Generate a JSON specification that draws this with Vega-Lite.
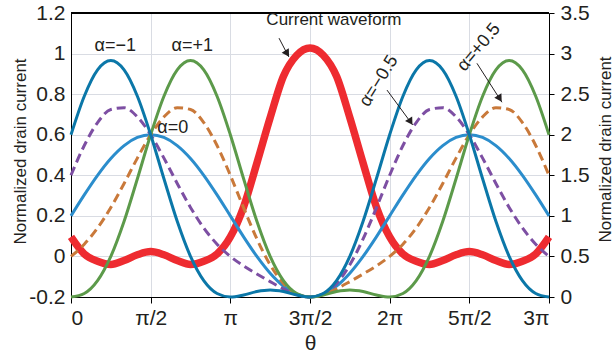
{
  "$schema": "https://vega.github.io/schema/vega-lite/v6.json",
  "width": 478,
  "height": 284,
  "autosize": {"type": "none"},
  "padding": {"left": 71, "top": 13, "right": 66, "bottom": 61},
  "config": {
    "view": {"stroke": "#000000", "strokeWidth": 1},
    "font": "Liberation Sans",
    "axis": {"labelFont": "Liberation Sans", "titleFont": "Liberation Sans", "labelColor": "#231f20", "titleColor": "#231f20", "domainColor": "#000000", "tickColor": "#000000", "titleFontWeight": "normal"}
  },
  "datasets": {
    "curves": [
      {"t": 0, "m1": 2, "m05": 1.5, "z": 1, "p05": 0.5, "p1": 0, "cur": 0.74},
      {"t": 15, "m1": 2.4747, "m05": 1.8667, "z": 1.2588, "p05": 0.6509, "p1": 0.0429, "cur": 0.53},
      {"t": 30, "m1": 2.799, "m05": 2.1495, "z": 1.5, "p05": 0.8505, "p1": 0.201, "cur": 0.44},
      {"t": 45, "m1": 2.9142, "m05": 2.3107, "z": 1.7071, "p05": 1.1036, "p1": 0.5, "cur": 0.40},
      {"t": 60, "m1": 2.799, "m05": 2.3325, "z": 1.866, "p05": 1.3995, "p1": 0.933, "cur": 0.45},
      {"t": 75, "m1": 2.4747, "m05": 2.2203, "z": 1.9659, "p05": 1.7115, "p1": 1.4571, "cur": 0.52},
      {"t": 90, "m1": 2, "m05": 2, "z": 2, "p05": 2, "p1": 2, "cur": 0.56},
      {"t": 105, "m1": 1.4571, "m05": 1.7115, "z": 1.9659, "p05": 2.2203, "p1": 2.4747, "cur": 0.52},
      {"t": 120, "m1": 0.933, "m05": 1.3995, "z": 1.866, "p05": 2.3325, "p1": 2.799, "cur": 0.45},
      {"t": 135, "m1": 0.5, "m05": 1.1036, "z": 1.7071, "p05": 2.3107, "p1": 2.9142, "cur": 0.40},
      {"t": 150, "m1": 0.201, "m05": 0.8505, "z": 1.5, "p05": 2.1495, "p1": 2.799, "cur": 0.44},
      {"t": 165, "m1": 0.0429, "m05": 0.6509, "z": 1.2588, "p05": 1.8667, "p1": 2.4747, "cur": 0.53},
      {"t": 180, "m1": 0, "m05": 0.5, "z": 1, "p05": 1.5, "p1": 2, "cur": 0.74},
      {"t": 195, "m1": 0.0253, "m05": 0.3832, "z": 0.7412, "p05": 1.0992, "p1": 1.4571, "cur": 1.11},
      {"t": 210, "m1": 0.067, "m05": 0.2835, "z": 0.5, "p05": 0.7165, "p1": 0.933, "cur": 1.65},
      {"t": 225, "m1": 0.0858, "m05": 0.1893, "z": 0.2929, "p05": 0.3964, "p1": 0.5, "cur": 2.21},
      {"t": 240, "m1": 0.067, "m05": 0.1005, "z": 0.134, "p05": 0.1675, "p1": 0.201, "cur": 2.72},
      {"t": 255, "m1": 0.0253, "m05": 0.0297, "z": 0.0341, "p05": 0.0385, "p1": 0.0429, "cur": 2.98},
      {"t": 270, "m1": 0, "m05": 0, "z": 0, "p05": 0, "p1": 0, "cur": 3.07},
      {"t": 285, "m1": 0.0429, "m05": 0.0385, "z": 0.0341, "p05": 0.0297, "p1": 0.0253, "cur": 2.98},
      {"t": 300, "m1": 0.201, "m05": 0.1675, "z": 0.134, "p05": 0.1005, "p1": 0.067, "cur": 2.72},
      {"t": 315, "m1": 0.5, "m05": 0.3964, "z": 0.2929, "p05": 0.1893, "p1": 0.0858, "cur": 2.21},
      {"t": 330, "m1": 0.933, "m05": 0.7165, "z": 0.5, "p05": 0.2835, "p1": 0.067, "cur": 1.65},
      {"t": 345, "m1": 1.4571, "m05": 1.0992, "z": 0.7412, "p05": 0.3832, "p1": 0.0253, "cur": 1.11},
      {"t": 360, "m1": 2, "m05": 1.5, "z": 1, "p05": 0.5, "p1": 0, "cur": 0.74},
      {"t": 375, "m1": 2.4747, "m05": 1.8667, "z": 1.2588, "p05": 0.6509, "p1": 0.0429, "cur": 0.53},
      {"t": 390, "m1": 2.799, "m05": 2.1495, "z": 1.5, "p05": 0.8505, "p1": 0.201, "cur": 0.44},
      {"t": 405, "m1": 2.9142, "m05": 2.3107, "z": 1.7071, "p05": 1.1036, "p1": 0.5, "cur": 0.40},
      {"t": 420, "m1": 2.799, "m05": 2.3325, "z": 1.866, "p05": 1.3995, "p1": 0.933, "cur": 0.45},
      {"t": 435, "m1": 2.4747, "m05": 2.2203, "z": 1.9659, "p05": 1.7115, "p1": 1.4571, "cur": 0.52},
      {"t": 450, "m1": 2, "m05": 2, "z": 2, "p05": 2, "p1": 2, "cur": 0.56},
      {"t": 465, "m1": 1.4571, "m05": 1.7115, "z": 1.9659, "p05": 2.2203, "p1": 2.4747, "cur": 0.52},
      {"t": 480, "m1": 0.933, "m05": 1.3995, "z": 1.866, "p05": 2.3325, "p1": 2.799, "cur": 0.45},
      {"t": 495, "m1": 0.5, "m05": 1.1036, "z": 1.7071, "p05": 2.3107, "p1": 2.9142, "cur": 0.40},
      {"t": 510, "m1": 0.201, "m05": 0.8505, "z": 1.5, "p05": 2.1495, "p1": 2.799, "cur": 0.44},
      {"t": 525, "m1": 0.0429, "m05": 0.6509, "z": 1.2588, "p05": 1.8667, "p1": 2.4747, "cur": 0.53},
      {"t": 540, "m1": 0, "m05": 0.5, "z": 1, "p05": 1.5, "p1": 2, "cur": 0.74}
    ],
    "labels": [
      {"t": 50, "v": 3.09, "label": "α=−1"},
      {"t": 137, "v": 3.09, "label": "α=+1"},
      {"t": 115, "v": 2.08, "label": "α=0"},
      {"t": 297, "v": 3.41, "label": "Current waveform"},
      {"t": 348, "v": 2.66, "label": "α=−0.5"},
      {"t": 461, "v": 3.075, "label": "α=+0.5"}
    ],
    "arrows": [
      {"t": 235, "v": 3.19, "t2": 246, "v2": 2.96},
      {"t": 357, "v": 2.55, "t2": 386, "v2": 2.12},
      {"t": 458.6, "v": 2.88, "t2": 486.8, "v2": 2.40}
    ],
    "heads": [
      {"t": 244.2, "v": 3.0},
      {"t": 383.6, "v": 2.16},
      {"t": 484.4, "v": 2.445}
    ]
  },
  "encoding": {
    "x": {
      "field": "t", "type": "quantitative",
      "scale": {"domain": [0, 540], "nice": false, "zero": false},
      "axis": {
        "values": [0, 90, 180, 270, 360, 450, 540],
        "labelExpr": "['0','π/2','π','3π/2','2π','5π/2','3π'][round(datum.value/90)]",
        "tickSize": 6, "labelPadding": 4, "labelFontSize": 21,
        "grid": true, "gridColor": "#d9dce3", "gridWidth": 1,
        "title": "θ", "titleFontSize": 21, "titleX": 239, "titleY": 46,
        "titleAlign": "center", "titleBaseline": "middle"
      }
    }
  },
  "layer": [
    {
      "data": {"name": "curves"},
      "mark": {"type": "point", "opacity": 0},
      "encoding": {
        "y": {
          "field": "z", "type": "quantitative",
          "scale": {"domain": [-0.2, 1.2], "nice": false, "zero": false},
          "axis": {
            "orient": "left",
            "values": [-0.2, 0, 0.2, 0.4, 0.6, 0.8, 1, 1.2],
            "labelExpr": "datum.value < -0.1 ? '-0.2' : format(datum.value, '~g')",
            "ticks": false, "tickSize": 0, "labelPadding": 6, "labelFontSize": 21,
            "grid": true, "gridColor": "#d9dce3", "gridWidth": 1,
            "title": "Normalized drain current", "titleFontSize": 17,
            "titleX": -51, "titleY": 138, "titleAngle": 270,
            "titleAlign": "center", "titleBaseline": "middle"
          }
        }
      }
    },
    {
      "encoding": {
        "y": {
          "field": "cur", "type": "quantitative",
          "scale": {"domain": [0, 3.5], "nice": false, "zero": false},
          "axis": {
            "orient": "right",
            "values": [0, 0.5, 1, 1.5, 2, 2.5, 3, 3.5],
            "format": "~g",
            "tickSize": 5, "labelPadding": 6, "labelFontSize": 21,
            "grid": false,
            "title": "Normalized drain current", "titleFontSize": 17,
            "titleX": 56, "titleY": 136, "titleAngle": 270,
            "titleAlign": "center", "titleBaseline": "middle"
          }
        }
      },
      "layer": [
        {
          "data": {"name": "curves"},
          "mark": {"type": "line", "color": "#ee2b30", "strokeWidth": 7.5, "interpolate": "monotone"}
        },
        {
          "data": {"name": "curves"},
          "mark": {"type": "line", "color": "#2b8dcc", "strokeWidth": 3, "interpolate": "monotone"},
          "encoding": {"y": {"field": "z", "type": "quantitative"}}
        },
        {
          "data": {"name": "curves"},
          "mark": {"type": "line", "color": "#c9793a", "strokeWidth": 3, "strokeDash": [9, 5], "interpolate": "monotone"},
          "encoding": {"y": {"field": "p05", "type": "quantitative"}}
        },
        {
          "data": {"name": "curves"},
          "mark": {"type": "line", "color": "#7d4fa3", "strokeWidth": 3, "strokeDash": [9, 5], "interpolate": "monotone"},
          "encoding": {"y": {"field": "m05", "type": "quantitative"}}
        },
        {
          "data": {"name": "curves"},
          "mark": {"type": "line", "color": "#5c9a4a", "strokeWidth": 3, "interpolate": "monotone"},
          "encoding": {"y": {"field": "p1", "type": "quantitative"}}
        },
        {
          "data": {"name": "curves"},
          "mark": {"type": "line", "color": "#0b77a8", "strokeWidth": 3, "interpolate": "monotone"},
          "encoding": {"y": {"field": "m1", "type": "quantitative"}}
        },
        {
          "data": {"name": "curves"},
          "mark": {"type": "rule", "color": "#000000", "strokeWidth": 1},
          "encoding": {"x": {"datum": 0}, "x2": {"datum": 540}, "y": {"datum": 3.5}}
        },
        {
          "data": {"name": "arrows"},
          "mark": {"type": "rule", "color": "#231f20", "strokeWidth": 1},
          "encoding": {
            "y": {"field": "v", "type": "quantitative"},
            "x2": {"field": "t2"},
            "y2": {"field": "v2"}
          }
        },
        {
          "data": {"name": "heads"},
          "mark": {"type": "point", "shape": "triangle-up", "filled": true, "color": "#231f20", "opacity": 1, "size": 70, "angle": 148},
          "encoding": {"y": {"field": "v", "type": "quantitative"}}
        },
        {
          "data": {"name": "labels"},
          "transform": [{"filter": {"field": "label", "oneOf": ["α=−1", "α=+1", "α=0"]}}],
          "mark": {"type": "text", "fontSize": 18, "color": "#231f20", "align": "center", "baseline": "middle"},
          "encoding": {
            "y": {"field": "v", "type": "quantitative"},
            "text": {"field": "label"}
          }
        },
        {
          "data": {"name": "labels"},
          "transform": [{"filter": {"field": "label", "equal": "Current waveform"}}],
          "mark": {"type": "text", "fontSize": 17, "color": "#231f20", "align": "center", "baseline": "middle"},
          "encoding": {
            "y": {"field": "v", "type": "quantitative"},
            "text": {"field": "label"}
          }
        },
        {
          "data": {"name": "labels"},
          "transform": [{"filter": {"field": "label", "equal": "α=−0.5"}}],
          "mark": {"type": "text", "fontSize": 18, "color": "#231f20", "align": "center", "baseline": "middle", "angle": -58},
          "encoding": {
            "y": {"field": "v", "type": "quantitative"},
            "text": {"field": "label"}
          }
        },
        {
          "data": {"name": "labels"},
          "transform": [{"filter": {"field": "label", "equal": "α=+0.5"}}],
          "mark": {"type": "text", "fontSize": 18, "color": "#231f20", "align": "center", "baseline": "middle", "angle": -50},
          "encoding": {
            "y": {"field": "v", "type": "quantitative"},
            "text": {"field": "label"}
          }
        }
      ]
    }
  ],
  "resolve": {"scale": {"y": "independent"}}
}
